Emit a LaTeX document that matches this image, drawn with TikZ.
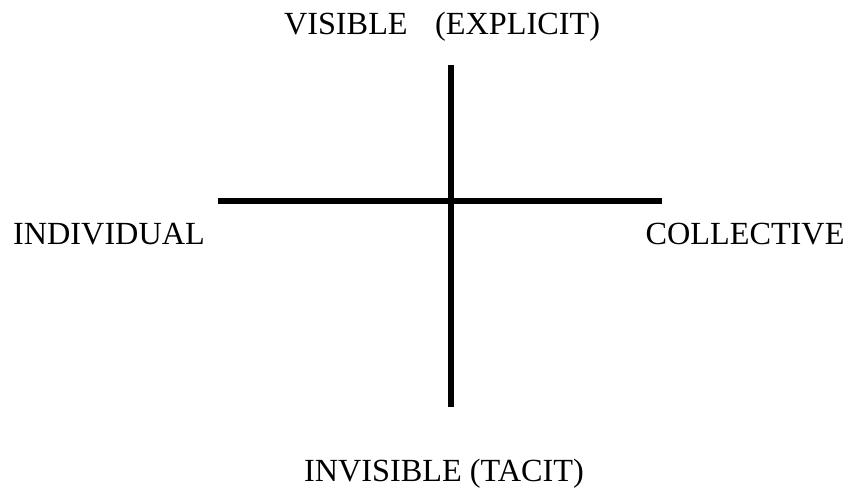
\documentclass[tikz,border=0pt]{standalone}
\usepackage{fontspec}
\setmainfont{Liberation Serif}
\usepackage{tikz}

\begin{document}
\begin{tikzpicture}[
    x=0.75pt, y=-0.75pt,
    axis/.style={line width=4.2pt, black},
    axislabel/.style={anchor=base, inner sep=0pt, font=\fontsize{24.2}{28}\selectfont}
]

% Marge
\useasboundingbox (0,0) rectangle (849,488);

% Extrems dels eixos
\coordinate (top) at (451,65);
\coordinate (bottom) at (451,407);
\coordinate (left) at (218,201);
\coordinate (right) at (662,201);

% Eixos
\draw[axis] (top) -- (bottom);
\draw[axis] (left) -- (right);

% Etiquetes
\node[axislabel] (visible) at (442,35) {VISIBLE\hspace{0.85em}(EXPLICIT)};
\node[axislabel] (invisible) at (444,481) {INVISIBLE (TACIT)};
\node[axislabel] (individual) at (109,245) {INDIVIDUAL};
\node[axislabel] (collective) at (745,245) {COLLECTIVE};

\end{tikzpicture}
\end{document}
